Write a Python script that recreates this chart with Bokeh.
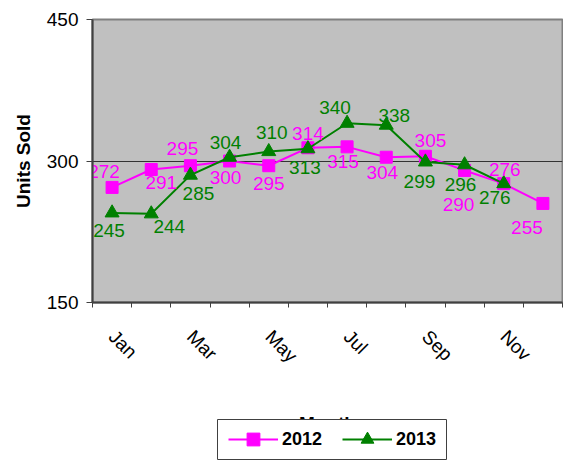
import math
from bokeh.plotting import figure
from bokeh.layouts import column
from bokeh.models import FixedTicker, Range1d, Legend, LegendItem
from bokeh.core.properties import value
from bokeh.embed import file_html
from bokeh.resources import INLINE

# ---- data ----
months = ["Jan", "Feb", "Mar", "Apr", "May", "Jun",
          "Jul", "Aug", "Sep", "Oct", "Nov", "Dec"]
labelled_months = ["Jan", "Mar", "May", "Jul", "Sep", "Nov"]
sales_2012 = [272, 291, 295, 300, 295, 314, 315, 304, 305, 290, 276, 255]
sales_2013 = [245, 244, 285, 304, 310, 313, 340, 338, 299, 296, 276]
y_ticks = [150, 300, 450]

# ---- data-label placement (screen px) ----
off12_dx = [-8, 10, -8, -4, 0, 0, -4, -4, 5, -6, 1, -16]
off12_dy = [-16, 13, -17, 16, 18, -14, 15, 15, -16, 34, -14, 24]
off13_dx = [-3, 18, 8, -4, 3, -3, -12, 8, -6, -4, -9]
off13_dy = [18, 13, 18, -15, -19, 19, -16, -10, 20, 20, 14]

MAG = "#FF00FF"
GRN = "#008000"
FONT = "Liberation Sans"

xpos = [i + 1 for i in range(len(months))]
x12 = xpos[:len(sales_2012)]
x13 = xpos[:len(sales_2013)]

p = figure(width=563, height=464,
           x_range=Range1d(0.5, len(months) + 0.5),
           y_range=Range1d(y_ticks[0], y_ticks[-1]),
           output_backend="svg", toolbar_location=None,
           min_border_left=92, min_border_right=1,
           min_border_top=19, min_border_bottom=162,
           background_fill_color="#C0C0C0", border_fill_color="white")

p.outline_line_color = "#808080"
p.outline_line_width = 2

# x axis
p.xaxis.ticker = FixedTicker(
    ticks=[xpos[months.index(m)] for m in labelled_months],
    minor_ticks=[i + 0.5 for i in range(len(months) + 1)])
p.xaxis.major_label_overrides = {xpos[months.index(m)]: m for m in labelled_months}
p.xaxis.major_tick_out = 0
p.xaxis.major_tick_in = 0
p.xaxis.minor_tick_out = 5
p.xaxis.minor_tick_in = 0
p.xaxis.minor_tick_line_color = "#404040"
p.xaxis.major_label_orientation = -math.pi / 4
p.xaxis.major_label_standoff = 26
p.xaxis.axis_label = "Month"
p.xaxis.axis_label_standoff = 36

# y axis
p.yaxis.ticker = FixedTicker(ticks=y_ticks)
p.yaxis.major_tick_out = 6
p.yaxis.major_tick_in = 0
p.yaxis.minor_tick_line_color = None
p.yaxis.major_label_standoff = 8
p.yaxis.axis_label = "Units Sold"
p.yaxis.axis_label_standoff = 10

for ax in (p.xaxis, p.yaxis):
    ax.axis_line_color = "#404040"
    ax.axis_line_width = 2
    ax.major_tick_line_color = "#404040"
    ax.major_label_text_font = FONT
    ax.major_label_text_font_size = "19px"
    ax.major_label_text_color = "black"
    ax.axis_label_text_font = FONT
    ax.axis_label_text_font_size = "19px"
    ax.axis_label_text_font_style = "bold"
    ax.axis_label_text_color = "black"

p.xgrid.visible = False
p.ygrid.ticker = FixedTicker(ticks=y_ticks[1:-1])
p.ygrid.grid_line_color = "#333333"
p.ygrid.grid_line_width = 1

# series
p.line(x12, sales_2012, line_color=MAG, line_width=2)
p.scatter(x12, sales_2012, marker="square", size=12, color=MAG)
p.line(x13, sales_2013, line_color=GRN, line_width=2)
p.scatter(x13, sales_2013, marker="triangle", size=14, color=GRN)

p.text(x12, sales_2012, text=[str(v) for v in sales_2012],
       x_offset=off12_dx, y_offset=off12_dy,
       text_align="center", text_baseline="middle",
       text_font=value(FONT), text_font_size="19px", text_color=MAG)
p.text(x13, sales_2013, text=[str(v) for v in sales_2013],
       x_offset=off13_dx, y_offset=off13_dy,
       text_align="center", text_baseline="middle",
       text_font=value(FONT), text_font_size="19px", text_color=GRN)

# ---- legend box, laid over the lower edge of the chart ----
# (its frame is aligned with the chart's 92px left border inside the column)
lg = figure(width=322, height=42, output_backend="svg", toolbar_location=None,
            min_border=1, x_axis_type=None, y_axis_type=None,
            x_range=Range1d(-2, -1), y_range=Range1d(0, 1),
            background_fill_color="white", border_fill_color=None,
            outline_line_color="#404040", outline_line_width=1,
            margin=(-46, 0, 0, 125))
lg.xgrid.visible = False
lg.ygrid.visible = False
# legend swatches: same series, kept outside this small frame's view
gl12 = lg.line(x12, sales_2012, line_color=MAG, line_width=2)
gs12 = lg.scatter(x12, sales_2012, marker="square", size=12, color=MAG)
gl13 = lg.line(x13, sales_2013, line_color=GRN, line_width=2)
gs13 = lg.scatter(x13, sales_2013, marker="triangle", size=14, color=GRN)

legend = Legend(items=[LegendItem(label="2012", renderers=[gl12, gs12]),
                       LegendItem(label="2013", renderers=[gl13, gs13])],
                location=(7, 0), orientation="horizontal", margin=0,
                glyph_width=50, glyph_height=32, padding=4, spacing=20,
                label_standoff=4, label_text_font=FONT,
                label_text_font_size="18px", label_text_font_style="bold",
                label_text_color="black",
                border_line_alpha=0, background_fill_alpha=0)
lg.add_layout(legend, "center")

layout = column(p, lg)
open("out.html", "w").write(file_html(layout, INLINE))
